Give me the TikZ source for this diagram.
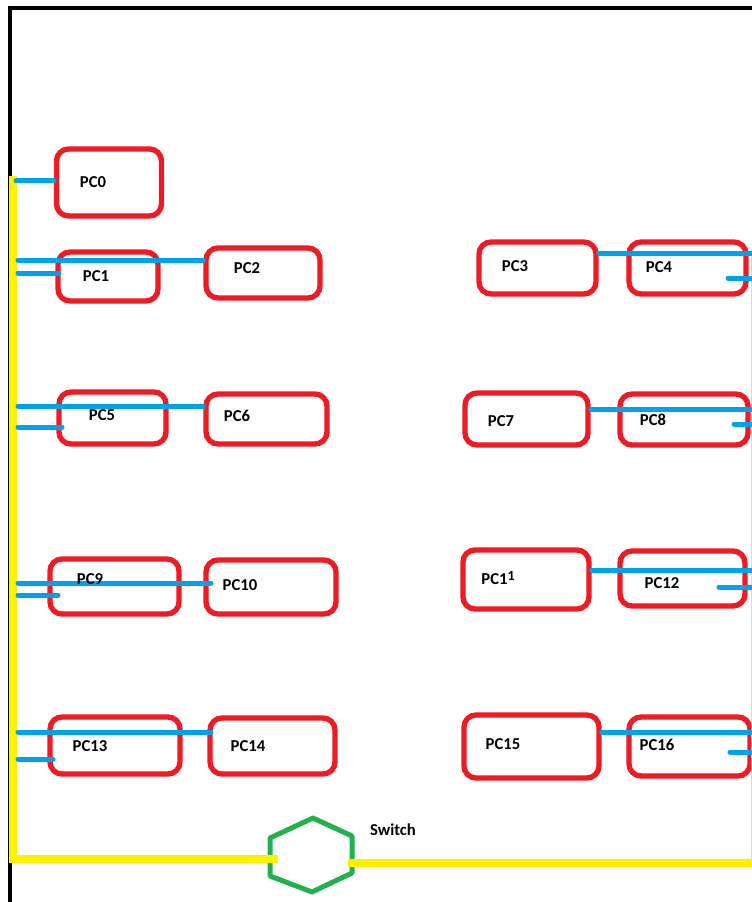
\documentclass[tikz,border=0pt]{standalone}
\usepackage{fontspec}
\setmainfont{Carlito}

\definecolor{pcred}{HTML}{ED1C24}
\definecolor{lanblue}{HTML}{00A2E8}
\definecolor{busyellow}{HTML}{FFF200}
\definecolor{swgreen}{HTML}{22B14C}

\tikzset{
    pc/.style 2 args={draw=pcred, line width=4pt, rounded corners=9pt, inner sep=0pt,
        minimum width=#1*0.75pt, minimum height=#2*0.75pt},
    lbl/.style={font=\bfseries\fontsize{12.5}{13}\selectfont, inner sep=0pt},
    lan/.style={draw=lanblue, line width=3.75pt, line cap=round},
    bus/.style={draw=busyellow, line width=6pt},
}

\begin{document}
\begin{tikzpicture}[x=0.75pt, y=-0.75pt]

        \useasboundingbox (0,0) rectangle (752,902);

        % room wall
        \draw[line width=3pt] (10,905) -- (10,8) -- (756,8);

        % computers
        \node[pc={105}{67}]  (pc0)  at (109,182.5) {};
        \node[pc={100}{49}]  (pc1)  at (108,276.5) {};
        \node[pc={114}{50}]  (pc2)  at (263,273) {};
        \node[pc={117}{52}]  (pc3)  at (537.5,268) {};
        \node[pc={117}{52}]  (pc4)  at (687.5,268) {};
        \node[pc={107}{52}]  (pc5)  at (112.5,418) {};
        \node[pc={121}{50}]  (pc6)  at (266.5,419) {};
        \node[pc={123}{52}]  (pc7)  at (526.5,419) {};
        \node[pc={128}{51}]  (pc8)  at (684,419.5) {};
        \node[pc={129}{55}]  (pc9)  at (114.5,586.5) {};
        \node[pc={130}{54}]  (pc10) at (271,587) {};
        \node[pc={126}{59}]  (pc11) at (526,579.5) {};
        \node[pc={125}{55}]  (pc12) at (682.5,578.5) {};
        \node[pc={130}{57}]  (pc13) at (115,745.5) {};
        \node[pc={125}{56}]  (pc14) at (272.5,746) {};
        \node[pc={135}{63}]  (pc15) at (531.5,746.5) {};
        \node[pc={121}{59}]  (pc16) at (689.5,746.5) {};

        % switch
        \draw[draw=swgreen, line width=3.75pt, line join=round]
            (313,818) -- (352,836) -- (352,873) -- (312,892) -- (270,876) -- (270,838) -- cycle;
        \coordinate (swW) at (278,859);
        \coordinate (swE) at (348,863);

        % backbone
        \coordinate (busL) at (13,176);
        \coordinate (busR) at (755,250);
        \draw[bus] (busL) |- (swW);
        \draw[bus] (swE) -| (busR);

        % left drops
        \coordinate (a0) at (16,181);
        \coordinate (a1) at (18,260);
        \coordinate (a2) at (18,273);
        \coordinate (a5) at (18,406);
        \coordinate (a6) at (18,427);
        \coordinate (a9) at (18,583);
        \coordinate (a10) at (18,595);
        \coordinate (a13) at (18,732);
        \coordinate (a14) at (18,759);

        \draw[lan] (a0) -- (a0 -| pc0.west);
        \draw[lan] (a1) -- (a1 -| pc2.west);
        \draw[lan] (a2) -- ++(41,0);
        \draw[lan] (a5) -- (a5 -| pc6.west);
        \draw[lan] (a6) -- ++(44,0);
        \draw[lan] (a9) -- ++(193,0);
        \draw[lan] (a10) -- ++(40,0);
        \draw[lan] (a13) -- ++(193,0);
        \draw[lan] (a14) -- ++(35,0);

        % right drops
        \coordinate (r3) at (752,253);
        \coordinate (r4) at (752,278);
        \coordinate (r7) at (752,409);
        \coordinate (r8) at (752,424);
        \coordinate (r11) at (752,570);
        \coordinate (r12) at (752,587);
        \coordinate (r15) at (752,732);
        \coordinate (r16) at (752,752);

        \draw[lan] (pc3.east |- r3) -- (r3);
        \draw[lan] (r4) -- ++(-24,0);
        \draw[lan] (pc7.east |- r7) -- (r7);
        \draw[lan] (r8) -- ++(-18,0);
        \draw[lan] (pc11.east |- r11) -- (r11);
        \draw[lan] (r12) -- ++(-33,0);
        \draw[lan] (pc15.east |- r15) -- (r15);
        \draw[lan] (r16) -- ++(-22,0);

        % names
        \node[lbl] (t0)  at (93,182)  {PC0};
        \node[lbl] (t1)  at (96,276)  {PC1};
        \node[lbl] (t2)  at (247,268) {PC2};
        \node[lbl] (t3)  at (515,266) {PC3};
        \node[lbl] (t4)  at (659,267) {PC4};
        \node[lbl] (t5)  at (102,415) {PC5};
        \node[lbl] (t6)  at (237,416) {PC6};
        \node[lbl] (t7)  at (501,421) {PC7};
        \node[lbl] (t8)  at (653,420) {PC8};
        \node[lbl] (t9)  at (90,579)  {PC9};
        \node[lbl] (t10) at (240,585) {PC10};
        \node[lbl] (t11) at (498,578) {PC1\raisebox{3pt}{\fontsize{10.5}{11}\selectfont 1}};
        \node[lbl] (t12) at (662,583) {PC12};
        \node[lbl] (t13) at (90,746)  {PC13};
        \node[lbl] (t14) at (248,746) {PC14};
        \node[lbl] (t15) at (503,744) {PC15};
        \node[lbl] (t16) at (657,745) {PC16};
        \node[lbl] (tsw) at (393,830) {Switch};
\end{tikzpicture}
\end{document}
